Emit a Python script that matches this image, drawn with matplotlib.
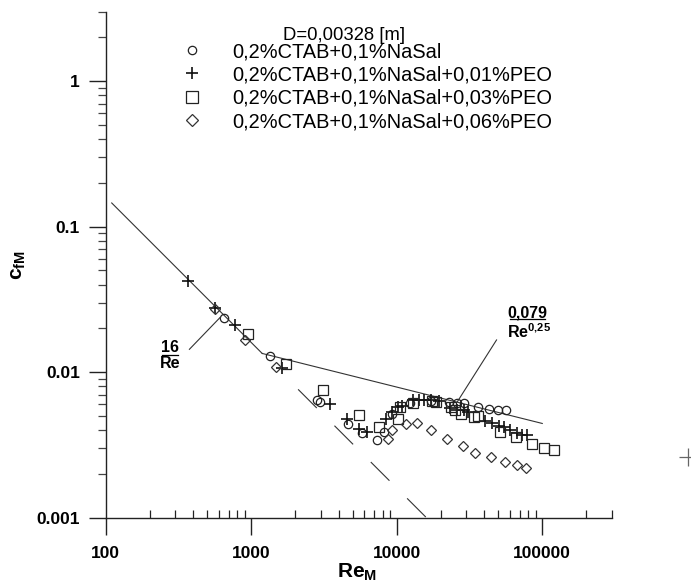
import numpy as np
import matplotlib
matplotlib.use("Agg")
import matplotlib.pyplot as plt
import matplotlib.ticker as ticker
from matplotlib.lines import Line2D

plt.rcParams["font.family"] = ["Liberation Sans", "DejaVu Sans"]
plt.rcParams["mathtext.fontset"] = "custom"
plt.rcParams["mathtext.rm"] = "Liberation Sans"
plt.rcParams["mathtext.bf"] = "Liberation Sans:bold"
plt.rcParams["lines.scale_dashes"] = False

# --- data (Re_M, c_fM) ---
re_ctab = [655, 1350, 2850, 2950, 4620, 5780, 7330, 8150, 9290, 12400,
           17060, 22800, 26100, 28900, 36100, 43000, 49900, 56600]
cf_ctab = [0.0237, 0.0129, 0.0064, 0.0062, 0.0044, 0.0038, 0.0034, 0.0039, 0.0052, 0.0061,
           0.0063, 0.0062, 0.0061, 0.0061, 0.0058, 0.0056, 0.0055, 0.0055]

re_peo01 = [366, 565, 776, 1625, 3500, 4560, 5470, 6250, 8490, 9290, 10170, 10800,
            13000, 14200, 15500, 17060, 19500, 23100, 26100, 29000, 31000, 40700,
            45400, 50300, 54500, 59900, 67400, 73000, 78100]
cf_peo01 = [0.0424, 0.0275, 0.0211, 0.0106, 0.0060, 0.0048, 0.0041, 0.0039, 0.0048, 0.0053,
            0.0058, 0.0059, 0.0064, 0.0064, 0.0064, 0.0064, 0.0063, 0.0057, 0.0055, 0.0055,
            0.0053, 0.0046, 0.0045, 0.0043, 0.0042, 0.0040, 0.0038, 0.0037, 0.0037]

re_peo03 = [957, 1733, 3111, 5470, 7520, 10170, 10600, 13000, 17500, 18500, 23500,
            25000, 27500, 33900, 36000, 51200, 65600, 84500, 102700, 120500]
cf_peo03 = [0.0182, 0.0114, 0.0076, 0.0051, 0.0042, 0.0048, 0.0058, 0.0061, 0.0063, 0.0062,
            0.0058, 0.0055, 0.0052, 0.0049, 0.0050, 0.0039, 0.0036, 0.0032, 0.0030, 0.0029]

re_peo06 = [560, 910, 1480, 8670, 9290, 11500, 13700, 17060, 22200, 28400, 34400,
            44200, 55100, 66700, 76900]
cf_peo06 = [0.0272, 0.0166, 0.0108, 0.0035, 0.0040, 0.0044, 0.0045, 0.0040, 0.0035,
            0.0031, 0.0028, 0.0026, 0.0024, 0.0023, 0.0022]

# stray point outside the axes in the original
re_stray = [1.0e6]
cf_stray = [0.0026]

labels = ["0,2%CTAB+0,1%NaSal",
          "0,2%CTAB+0,1%NaSal+0,01%PEO",
          "0,2%CTAB+0,1%NaSal+0,03%PEO",
          "0,2%CTAB+0,1%NaSal+0,06%PEO"]

# correlation line ranges
lam_re = np.array([110, 1190])
lam_dash_re = np.array([2100, 16000])
turb_re = np.array([1190, 100000])

x_ticks = [100, 1000, 10000, 100000]
y_ticks = [0.001, 0.01, 0.1, 1]

W, H = 691, 585
fig = plt.figure(figsize=(W / 100, H / 100), dpi=100)
ax = fig.add_axes([105.7 / W, 1 - 517.7 / H, 506 / W, 506 / H])
ax.set_xscale("log")
ax.set_yscale("log")
ax.set_xlim(100, 300000)
ax.set_ylim(0.001, 3)

lc = "#333333"
ax.plot(lam_re, 16 / lam_re, color=lc, lw=0.8)
ax.plot(lam_dash_re, 16 / lam_dash_re, color=lc, lw=0.8, dashes=(19, 18))
ax.plot(turb_re, 0.079 / turb_re ** 0.25, color=lc, lw=0.8)

mk = dict(linestyle="none", mfc="none")
ax.plot(re_ctab, cf_ctab, marker="o", ms=6, mew=0.9, mec="#222222", **mk)
ax.plot(re_peo01, cf_peo01, marker="+", ms=8, mew=1.2, mec="#111111", **mk)
ax.plot(re_peo03, cf_peo03, marker="s", ms=6.5, mew=0.9, mec="#222222", **mk)
ax.plot(re_peo06, cf_peo06, marker="D", ms=4.8, mew=0.9, mec="#333333", **mk)
ax.plot(re_stray, cf_stray, marker="+", ms=13, mew=0.9, mec="#666666", clip_on=False, **mk)

# annotations
ax.text(276, 0.0148, "16", ha="center", va="center", fontsize=11.5, fontweight="bold")
ax.plot([243, 313], [0.0131, 0.0131], color="black", lw=0.9)
ax.text(276, 0.0115, "Re", ha="center", va="center", fontsize=11.5, fontweight="bold")
ax.plot([376, 612], [0.01436, 0.0238], color=lc, lw=0.8)

ax.text(78900, 0.0254, "0,079", ha="center", va="center", fontsize=11.5, fontweight="bold")
ax.plot([59900, 104000], [0.0231, 0.0231], color="black", lw=0.9)
ax.text(56900, 0.0189, r"Re$^{\mathbf{0{,}25}}$", ha="left", va="center",
        fontsize=11.5, fontweight="bold")
ax.plot([48500, 26100], [0.01665, 0.00627], color=lc, lw=0.8)

# axes styling
for s in ["top", "right"]:
    ax.spines[s].set_visible(False)
for s in ["left", "bottom"]:
    ax.spines[s].set_color("#222222")
    ax.spines[s].set_linewidth(1.0)

ax.xaxis.set_major_locator(ticker.FixedLocator(x_ticks))
ax.xaxis.set_major_formatter(ticker.FixedFormatter([str(v) for v in x_ticks]))
ax.xaxis.set_minor_locator(ticker.LogLocator(base=10, subs=np.arange(2, 10), numticks=20))
ax.xaxis.set_minor_formatter(ticker.NullFormatter())
ax.yaxis.set_major_locator(ticker.FixedLocator(y_ticks))
ax.yaxis.set_major_formatter(ticker.FixedFormatter(["0.001", "0.01", "0.1", "1"]))
ax.yaxis.set_minor_locator(ticker.LogLocator(base=10, subs=np.arange(2, 10), numticks=20))
ax.yaxis.set_minor_formatter(ticker.NullFormatter())

ax.tick_params(axis="x", which="major", direction="out", length=12, width=1.0,
               color="#222222", pad=8.5, labelsize=12.5)
ax.tick_params(axis="x", which="minor", direction="in", length=6, width=0.9, color="#222222")
ax.tick_params(axis="y", which="major", direction="out", length=12, width=1.0,
               color="#222222", pad=6.5, labelsize=12.5)
ax.tick_params(axis="y", which="minor", direction="out", length=6, width=0.9, color="#444444")
for lab in ax.get_xticklabels() + ax.get_yticklabels():
    lab.set_fontweight("bold")

ax.set_xlabel(r"$\mathbf{Re_M}$", fontsize=15, va="center")
ax.xaxis.set_label_coords((357 - 105.7) / 506, (517.7 - 572) / 506)
ax.set_ylabel(r"$\mathbf{c_{fM}}$", fontsize=15, va="center")
ax.yaxis.set_label_coords((19 - 105.7) / 506, (517.7 - 265) / 506)

# legend
handles = [
    Line2D([], [], marker="o", ms=6, mew=0.9, mec="#222222", **mk),
    Line2D([], [], marker="+", ms=8, mew=1.2, mec="#111111", **mk),
    Line2D([], [], marker="s", ms=8.5, mew=0.9, mec="#222222", **mk),
    Line2D([], [], marker="D", ms=6, mew=0.9, mec="#333333", **mk),
]
fs = 14.4
ax.legend(handles, labels, loc="upper left", bbox_to_anchor=(181.7 / W, 1 - 42 / H),
          bbox_transform=fig.transFigure, frameon=False, fontsize=fs, numpoints=1,
          handlelength=1.0, handletextpad=1.55, labelspacing=0.22,
          borderpad=0, borderaxespad=0)
fig.text(283 / W, 1 - 35 / H, "D=0,00328 [m]", ha="left", va="center", fontsize=13.3)

fig.savefig("out.png", dpi=100)
